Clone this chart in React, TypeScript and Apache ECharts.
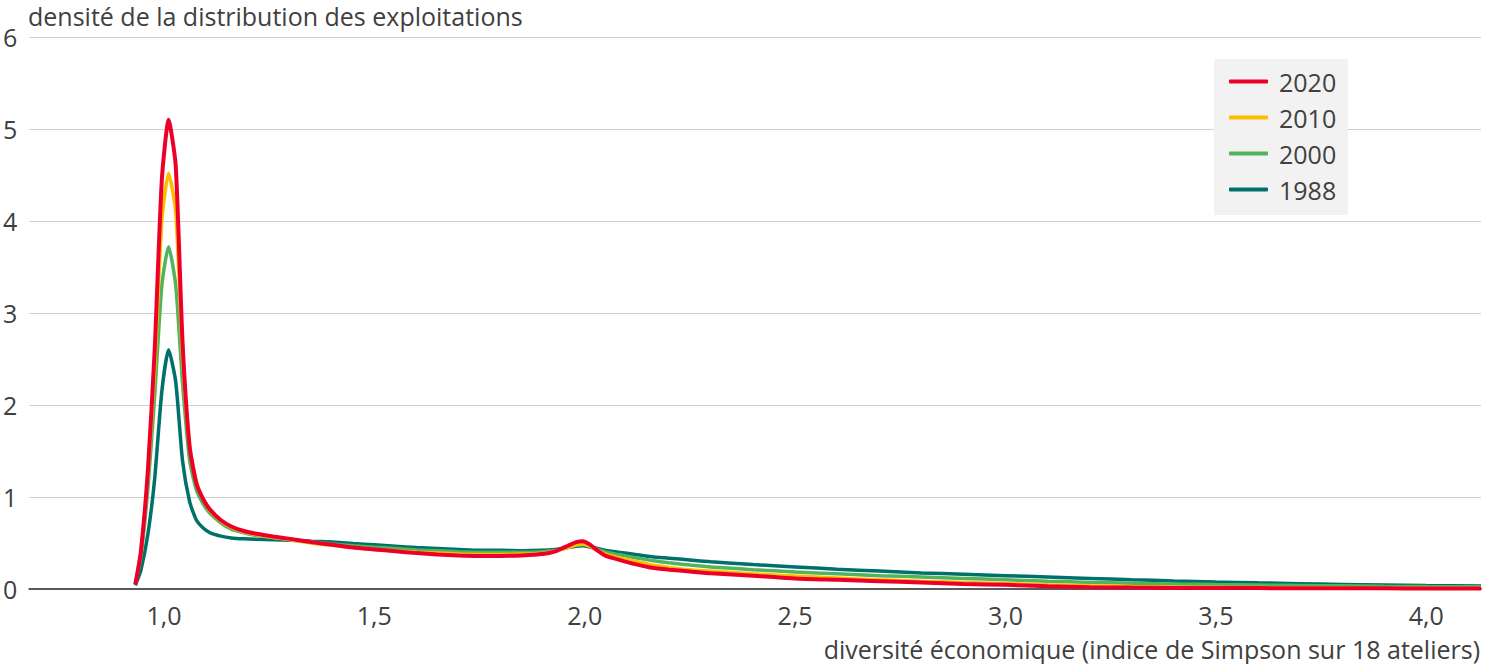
import React, { useEffect, useRef } from "react";
import * as echarts from "echarts";

const xValues = [
  0.932, 0.945, 0.962, 0.978, 0.995, 1.011, 1.028, 1.044, 1.061, 1.077, 1.094, 1.11, 1.135, 1.16, 1.19, 1.22,
  1.26, 1.3, 1.35, 1.4, 1.45, 1.5, 1.55, 1.6, 1.65, 1.7, 1.75, 1.8, 1.85, 1.9, 1.93, 1.96, 1.98, 1.995, 2.01,
  2.03, 2.05, 2.08, 2.12, 2.16, 2.2, 2.25, 2.3, 2.4, 2.5, 2.6, 2.7, 2.8, 2.9, 3.0, 3.1, 3.2, 3.3, 3.4, 3.5,
  3.6, 3.7, 3.8, 3.9, 4.0, 4.13,
];

const y2020 = [
  0.05, 0.4, 1.3, 2.6, 4.45, 5.1, 4.6, 2.7, 1.55, 1.15, 0.97, 0.86, 0.75, 0.68, 0.63, 0.6,
  0.57, 0.545, 0.51, 0.48, 0.45, 0.43, 0.41, 0.39, 0.375, 0.365, 0.36, 0.36, 0.365, 0.38, 0.41, 0.47, 0.51, 0.52, 0.49,
  0.42, 0.36, 0.32, 0.27, 0.23, 0.21, 0.19, 0.17, 0.145, 0.115, 0.1, 0.085, 0.07, 0.055, 0.045, 0.03, 0.02, 0.015, 0.012, 0.01,
  0.01, 0.008, 0.008, 0.007, 0.006, 0.005,
];

const y2010 = [
  0.06, 0.4, 1.25, 2.4, 4.0, 4.52, 4.1, 2.55, 1.55, 1.17, 0.97, 0.85, 0.74, 0.67, 0.62, 0.59,
  0.56, 0.535, 0.5, 0.475, 0.45, 0.43, 0.415, 0.4, 0.39, 0.38, 0.375, 0.375, 0.38, 0.39, 0.41, 0.45, 0.48, 0.49, 0.47,
  0.42, 0.38, 0.34, 0.3, 0.26, 0.235, 0.21, 0.195, 0.165, 0.14, 0.12, 0.1, 0.085, 0.072, 0.06, 0.045, 0.035, 0.028, 0.022, 0.018,
  0.015, 0.013, 0.012, 0.01, 0.009, 0.008,
];

const y2000 = [
  0.05, 0.35, 1.1, 2.1, 3.3, 3.72, 3.3, 2.25, 1.4, 1.08, 0.92, 0.82, 0.72, 0.65, 0.61, 0.58,
  0.56, 0.54, 0.515, 0.49, 0.47, 0.455, 0.44, 0.425, 0.415, 0.405, 0.4, 0.4, 0.4, 0.405, 0.42, 0.45, 0.475, 0.48, 0.465,
  0.43, 0.4, 0.375, 0.34, 0.31, 0.285, 0.26, 0.24, 0.21, 0.185, 0.165, 0.145, 0.13, 0.115, 0.1, 0.085, 0.072, 0.062, 0.054, 0.048,
  0.043, 0.038, 0.034, 0.03, 0.027, 0.024,
];

const y1988 = [
  0.04, 0.2, 0.6, 1.2, 2.15, 2.6, 2.25, 1.4, 0.95, 0.75, 0.66, 0.61, 0.575, 0.555, 0.545, 0.54,
  0.535, 0.53, 0.52, 0.51, 0.495, 0.48, 0.465, 0.45, 0.44, 0.43, 0.42, 0.42, 0.415, 0.42, 0.43, 0.45, 0.465, 0.47, 0.46,
  0.44, 0.42, 0.4, 0.375, 0.35, 0.335, 0.315, 0.295, 0.265, 0.24, 0.215, 0.195, 0.175, 0.16, 0.145, 0.13, 0.115, 0.1, 0.088, 0.077,
  0.067, 0.058, 0.05, 0.043, 0.037, 0.033,
];

const xTicks = [1.0, 1.5, 2.0, 2.5, 3.0, 3.5, 4.0];
const yTicks = [0, 1, 2, 3, 4, 5, 6];

const seriesDefs = [
  { name: "1988", values: y1988, color: "#00706a", width: 3.5 },
  { name: "2000", values: y2000, color: "#52b35d", width: 3.5 },
  { name: "2010", values: y2010, color: "#fdbd00", width: 3.5 },
  { name: "2020", values: y2020, color: "#ec0029", width: 4 },
];

const FONT = "'Open Sans', 'Noto Sans', sans-serif";
const TXT = "#404040";
const FS = 25;

export default function App() {
  const ref = useRef<HTMLDivElement>(null);
  useEffect(() => {
    if (!ref.current) return;
    const chart = echarts.init(ref.current, null, { renderer: "svg" });
    chart.setOption({
      animation: false,
      backgroundColor: "#ffffff",
      textStyle: { fontFamily: FONT },
      grid: { left: 26, right: 23, top: 37, bottom: 75, containLabel: false },
      xAxis: {
        type: "value",
        min: 0.68,
        max: 4.13,
        axisLine: { show: true, lineStyle: { color: "#5a5a5a", width: 2 } },
        axisTick: { show: false },
        splitLine: { show: false },
        axisLabel: {
          customValues: xTicks,
          margin: 13,
          fontSize: FS,
          color: TXT,
          fontFamily: FONT,
          formatter: (v: number) => v.toFixed(1).replace(".", ","),
        },
      },
      yAxis: {
        type: "value",
        min: 0,
        max: 6,
        interval: 1,
        axisLine: { show: false },
        axisTick: { show: false },
        splitLine: { show: true, lineStyle: { color: "#cfcfcf", width: 1 } },
        axisLabel: {
          customValues: yTicks,
          margin: 12,
          fontSize: FS,
          color: TXT,
          fontFamily: FONT,
        },
      },
      legend: {
        data: ["2020", "2010", "2000", "1988"],
        orient: "vertical",
        left: 1214,
        top: 59,
        padding: [10, 12, 13, 15],
        itemGap: 11,
        itemWidth: 39,
        itemHeight: 4,
        icon: "roundRect",
        backgroundColor: "#f2f2f2",
        textStyle: { fontSize: FS, color: TXT, fontFamily: FONT, padding: [0, 0, 0, 6] },
      },
      graphic: [
        {
          type: "text",
          left: 28,
          top: 3,
          style: { text: "densité de la distribution des exploitations", fontSize: FS, fill: TXT, fontFamily: FONT },
        },
        {
          type: "text",
          right: 24,
          top: 636,
          style: {
            text: "diversité économique (indice de Simpson sur 18 ateliers)",
            fontSize: FS,
            fill: TXT,
            fontFamily: FONT,
          },
        },
      ],
      series: seriesDefs.map((s) => ({
        name: s.name,
        type: "line",
        data: xValues.map((x, i) => [x, s.values[i]]),
        showSymbol: false,
        symbol: "none",
        smooth: 0.2,
        lineStyle: { color: s.color, width: s.width },
        itemStyle: { color: s.color },
        emphasis: { disabled: true },
      })),
    });
    return () => chart.dispose();
  }, []);
  return <div ref={ref} style={{ position: "fixed", left: 0, top: 0, width: 1504, height: 664 }} />;
}
